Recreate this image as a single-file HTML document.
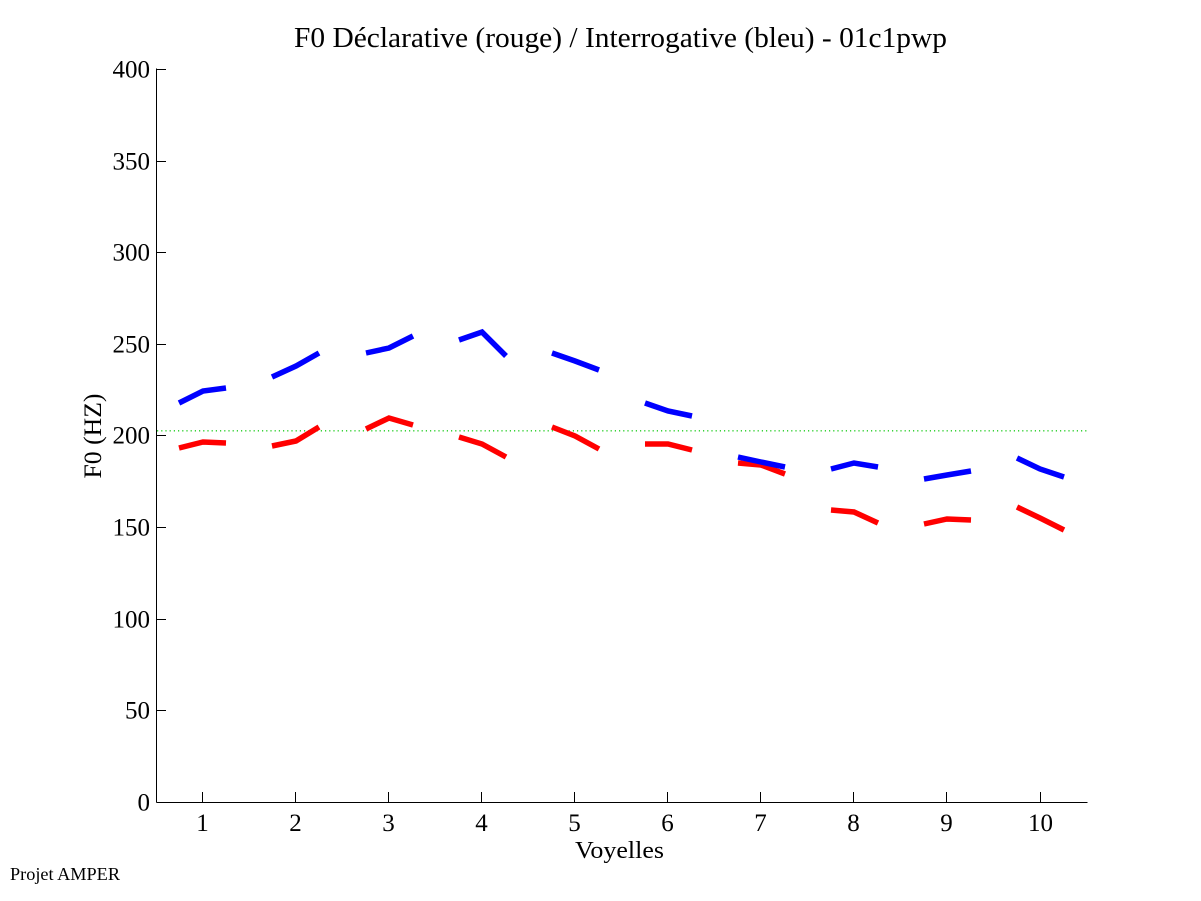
<!DOCTYPE html>
<html>
<head>
<meta charset="utf-8">
<style>
html,body{margin:0;padding:0;background:#fff;}
svg{display:block;}
text{font-family:"Liberation Serif","DejaVu Serif",serif;fill:#000;}
</style>
</head>
<body>
<svg width="1201" height="901" viewBox="0 0 1201 901" xmlns="http://www.w3.org/2000/svg">
<rect x="0" y="0" width="1201" height="901" fill="#fff"/>

<!-- title -->
<text x="620.5" y="47" font-size="29" text-anchor="middle" textLength="653" lengthAdjust="spacingAndGlyphs">F0 Déclarative (rouge) / Interrogative (bleu) - 01c1pwp</text>

<!-- green mean line -->
<line x1="157" y1="430.8" x2="1087" y2="430.8" stroke="#1ecc1e" stroke-width="1.3" stroke-dasharray="1.2 3"/>

<!-- axes -->
<g stroke="#000" stroke-width="1" fill="none">
<line x1="156.5" y1="68.5" x2="156.5" y2="802.5"/>
<line x1="156.5" y1="802.5" x2="1087.5" y2="802.5"/>
<!-- y ticks -->
<line x1="157" y1="69.5" x2="166" y2="69.5"/>
<line x1="157" y1="161.5" x2="166" y2="161.5"/>
<line x1="157" y1="252.5" x2="166" y2="252.5"/>
<line x1="157" y1="344.5" x2="166" y2="344.5"/>
<line x1="157" y1="435.5" x2="166" y2="435.5"/>
<line x1="157" y1="527.5" x2="166" y2="527.5"/>
<line x1="157" y1="619.5" x2="166" y2="619.5"/>
<line x1="157" y1="710.5" x2="166" y2="710.5"/>
<!-- x ticks -->
<line x1="202.5" y1="792" x2="202.5" y2="802"/>
<line x1="295.5" y1="792" x2="295.5" y2="802"/>
<line x1="388.5" y1="792" x2="388.5" y2="802"/>
<line x1="481.5" y1="792" x2="481.5" y2="802"/>
<line x1="574.5" y1="792" x2="574.5" y2="802"/>
<line x1="667.5" y1="792" x2="667.5" y2="802"/>
<line x1="760.5" y1="792" x2="760.5" y2="802"/>
<line x1="853.5" y1="792" x2="853.5" y2="802"/>
<line x1="946.5" y1="792" x2="946.5" y2="802"/>
<line x1="1040.5" y1="792" x2="1040.5" y2="802"/>
</g>

<!-- y tick labels -->
<g font-size="25" text-anchor="end">
<text x="150" y="77.5">400</text>
<text x="150" y="169.5">350</text>
<text x="150" y="260.5">300</text>
<text x="150" y="352.5">250</text>
<text x="150" y="443.5">200</text>
<text x="150" y="535.5">150</text>
<text x="150" y="627.5">100</text>
<text x="150" y="718.5">50</text>
<text x="150" y="810.5">0</text>
</g>

<!-- x tick labels -->
<g font-size="25" text-anchor="middle">
<text x="202.5" y="831">1</text>
<text x="295.5" y="831">2</text>
<text x="388.5" y="831">3</text>
<text x="481.5" y="831">4</text>
<text x="574.5" y="831">5</text>
<text x="667.5" y="831">6</text>
<text x="760.5" y="831">7</text>
<text x="853.5" y="831">8</text>
<text x="946.5" y="831">9</text>
<text x="1040.5" y="831">10</text>
</g>

<!-- axis labels -->
<text x="619.5" y="858" font-size="24" text-anchor="middle" textLength="89" lengthAdjust="spacingAndGlyphs">Voyelles</text>
<text transform="translate(101,436) rotate(-90)" x="0" y="0" font-size="25" text-anchor="middle" textLength="85" lengthAdjust="spacingAndGlyphs">F0 (HZ)</text>
<text x="10" y="880" font-size="18" textLength="110" lengthAdjust="spacingAndGlyphs">Projet AMPER</text>

<!-- red series (declarative) -->
<g stroke="#ff0000" stroke-width="5.5" fill="none" stroke-linejoin="miter" stroke-linecap="butt">
<polyline points="179,448 203,442 226,443"/>
<polyline points="272,446 296,441 319,427"/>
<polyline points="366,429 389,418 413,425"/>
<polyline points="459,437 482,444 506,457"/>
<polyline points="552,427 575,436 599,449"/>
<polyline points="645,444 668,444 692,450"/>
<polyline points="738,463 761,465 785,474"/>
<polyline points="831,510 854,512 878,523"/>
<polyline points="924,524 947,519 971,520"/>
<polyline points="1017,507 1040,518 1064,530"/>
</g>

<!-- blue series (interrogative) -->
<g stroke="#0000ff" stroke-width="5.5" fill="none" stroke-linejoin="miter" stroke-linecap="butt">
<polyline points="179,403 203,391 226,388"/>
<polyline points="272,377 296,366 319,353"/>
<polyline points="366,353 389,348 413,336"/>
<polyline points="459,340 482,332 506,356"/>
<polyline points="552,353 575,361 599,370"/>
<polyline points="645,403 668,411 692,416"/>
<polyline points="738,457 761,462 785,467"/>
<polyline points="831,469 854,463 878,467"/>
<polyline points="924,479 947,475 971,471"/>
<polyline points="1017,458 1040,469 1064,477"/>
</g>
</svg>
</body>
</html>
